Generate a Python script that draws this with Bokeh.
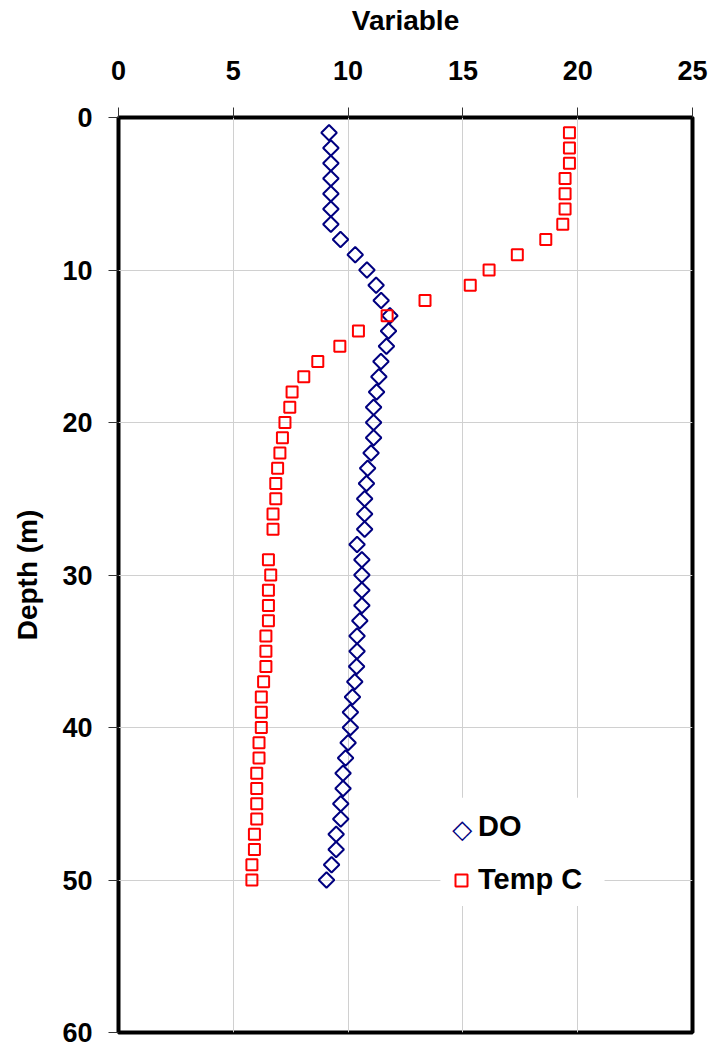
import numpy as np
from bokeh.plotting import figure
from bokeh.models import Range1d, FixedTicker, Label, Legend, LegendItem, BoxAnnotation
from bokeh.embed import file_html
from bokeh.resources import INLINE

# ---- data ----
depth_do = list(range(1, 51))
do_vals = [9.17, 9.25, 9.25, 9.25, 9.25, 9.25, 9.25, 9.67, 10.31, 10.82,
           11.22, 11.44, 11.82, 11.76, 11.67, 11.43, 11.34, 11.24, 11.11, 11.11,
           11.11, 11.00, 10.85, 10.80, 10.72, 10.72, 10.72, 10.39, 10.60, 10.60,
           10.60, 10.60, 10.51, 10.39, 10.39, 10.37, 10.29, 10.19, 10.10, 10.10,
           10.00, 9.89, 9.78, 9.78, 9.68, 9.68, 9.48, 9.48, 9.28, 9.06]

depth_temp = [d for d in range(1, 51) if d != 28]
temp_vals = [19.64, 19.64, 19.64, 19.45, 19.45, 19.45, 19.35, 18.61, 17.37, 16.14,
             15.32, 13.35, 11.70, 10.45, 9.64, 8.68, 8.07, 7.56, 7.46, 7.25,
             7.14, 7.03, 6.93, 6.85, 6.85, 6.73, 6.73, 6.53, 6.63,
             6.53, 6.53, 6.53, 6.42, 6.42, 6.42, 6.32, 6.22, 6.22, 6.22,
             6.12, 6.12, 6.02, 6.02, 6.02, 6.02, 5.92, 5.92, 5.81, 5.81]

x_ticks = [0, 5, 10, 15, 20, 25]
y_ticks = [0, 10, 20, 30, 40, 50, 60]
series_names = ["DO", "Temp C"]

FONT = "Liberation Sans"

p = figure(width=717, height=1044, output_backend="svg", toolbar_location=None,
           x_axis_location="above",
           x_range=Range1d(0, 25), y_range=Range1d(60, 0),
           min_border_left=118, min_border_right=25, min_border_top=117,
           min_border_bottom=12)

p.outline_line_color = "black"
p.outline_line_width = 4
p.background_fill_color = "white"
p.border_fill_color = "white"

for ax in (p.xaxis[0], p.yaxis[0]):
    ax.axis_line_color = None
    ax.major_tick_in = 0
    ax.major_tick_out = 10
    ax.major_tick_line_color = "#333333"
    ax.major_tick_line_width = 1
    ax.minor_tick_line_color = None
    ax.major_label_text_font = FONT
    ax.major_label_text_font_style = "bold"
    ax.major_label_text_font_size = "27px"
    ax.major_label_text_color = "black"
    ax.axis_label_text_font = FONT
    ax.axis_label_text_font_style = "bold"
    ax.axis_label_text_font_size = "28px"
    ax.axis_label_text_color = "black"

p.xaxis[0].ticker = FixedTicker(ticks=x_ticks)
p.yaxis[0].ticker = FixedTicker(ticks=y_ticks)
p.xaxis[0].axis_label = "Variable"
p.yaxis[0].axis_label = "Depth (m)"
p.xaxis[0].major_label_standoff = 28
p.yaxis[0].major_label_standoff = 16
p.xaxis[0].axis_label_standoff = 22
p.yaxis[0].axis_label_standoff = 16

p.xgrid.ticker = FixedTicker(ticks=x_ticks)
p.ygrid.ticker = FixedTicker(ticks=y_ticks)
p.grid.grid_line_color = "#d0d0d0"
p.grid.grid_line_width = 1

# white panel behind the legend (hides grid lines there)
panel = BoxAnnotation(left=14.02, right=21.17, top=44.6, bottom=51.7,
                      fill_color="white", fill_alpha=1.0, line_color=None,
                      level="underlay")
p.add_layout(panel)

r_do = p.scatter(do_vals, depth_do, marker="square", angle=np.pi / 4, size=11,
                 fill_color=None, line_color="#000080", line_width=2)
r_temp = p.scatter(temp_vals, depth_temp, marker="square", size=11,
                   fill_color=None, line_color="#FF0000", line_width=2)
# key stand-in for DO (legend keys are drawn unrotated by Bokeh)
r_do_key = p.scatter([], [], marker="square", size=11, fill_color=None,
                     line_color="#000080", line_alpha=0)

lg = Legend(items=[LegendItem(label=series_names[0], renderers=[r_do_key]),
                   LegendItem(label=series_names[1], renderers=[r_temp])])
p.add_layout(lg, "center")
lg.location = (328, 136)
lg.border_line_color = None
lg.background_fill_alpha = 0.0
lg.padding = 8
lg.margin = 0
lg.glyph_width = 30
lg.glyph_height = 30
lg.label_height = 30
lg.spacing = 20
lg.label_standoff = 2
lg.label_text_font = FONT
lg.label_text_font_style = "bold"
lg.label_text_font_size = "29px"
lg.label_text_color = "black"

# diamond key drawn as a text symbol at the (blank) DO legend key
key = Label(x=14.97, y=46.65, text="\u25C7", text_color="#000080",
            text_font="DejaVu Sans", text_font_size="26px", text_font_style="bold",
            text_align="center", text_baseline="middle")
p.add_layout(key, "center")

open("out.html", "w").write(file_html(p, INLINE))
